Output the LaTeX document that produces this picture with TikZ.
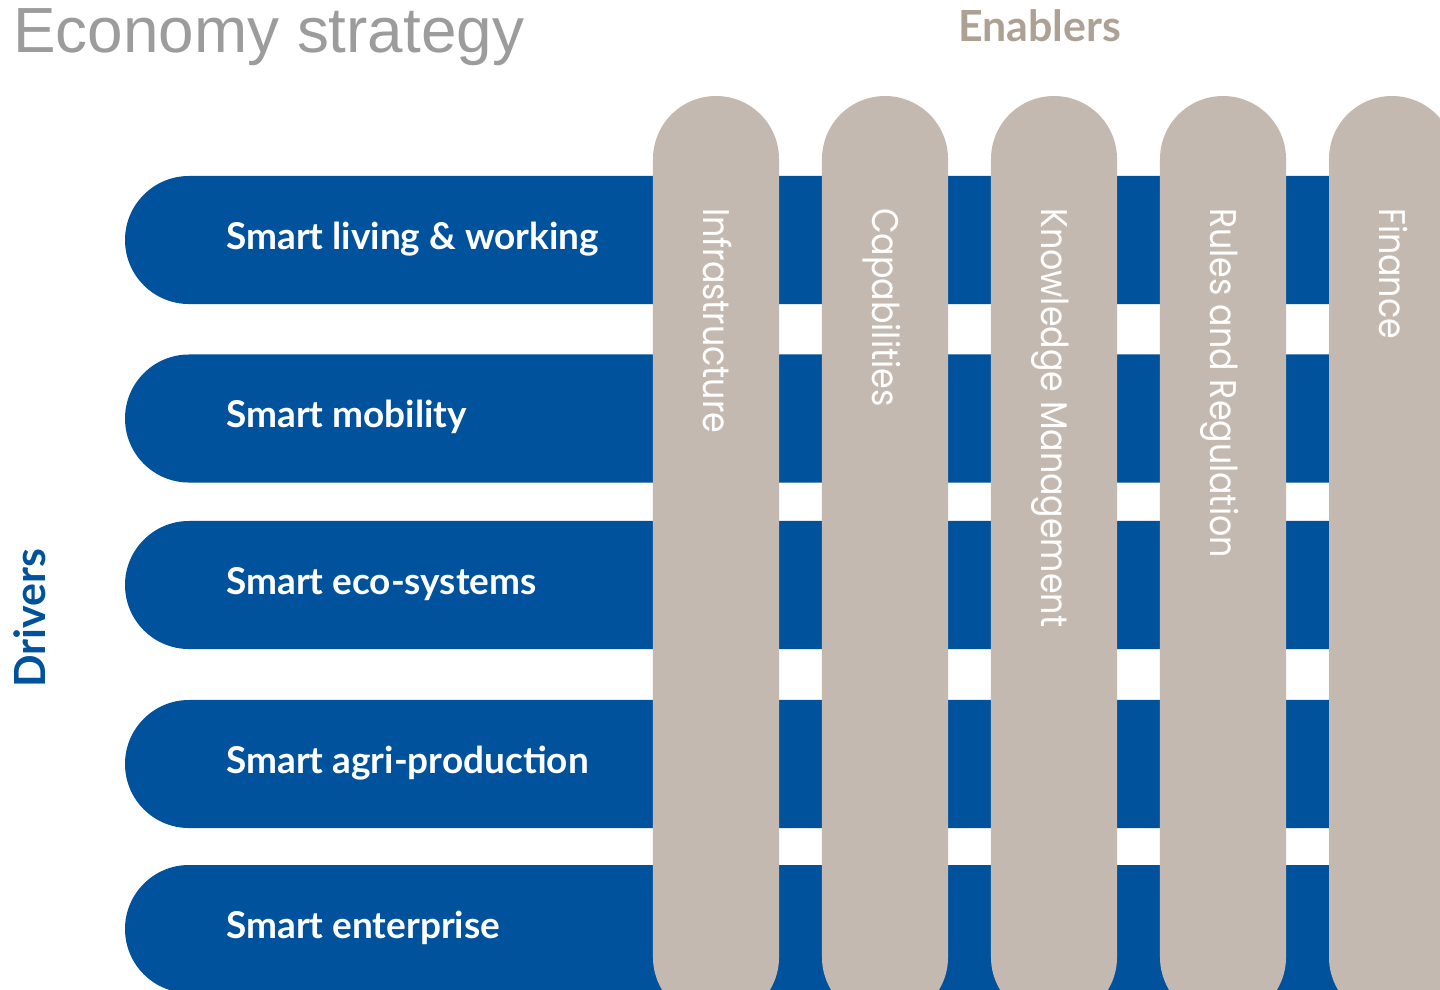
\documentclass[tikz,border=0pt]{standalone}
\usepackage{fontspec}
\usepackage{graphicx}
\setmainfont{Lato}
\newfontfamily\titlefont{Liberation Sans}
\newfontfamily\enablerfont{Poppins}
\usepackage{tikz}
\usetikzlibrary{positioning}
\usetikzlibrary{shapes.misc}
\definecolor{driverblue}{HTML}{00529C}
\definecolor{enablergray}{HTML}{C4B9B0}
\definecolor{enablertext}{HTML}{ADA194}
\definecolor{titlegray}{HTML}{9C9C9C}
\tikzset{
    driver/.style = {shape=rounded rectangle,rounded rectangle right arc=none,fill=driverblue,inner sep=0,outer sep=0,minimum height=3.2cm,minimum width=33.5cm,anchor=west},
    enabler/.style = {shape=rounded rectangle,fill=enablergray,inner sep=0,outer sep=0,minimum height=3.15cm,minimum width=23.1cm,rotate=-90,anchor=west},
    drvlabel/.style = {text=white,inner sep=0,anchor=base west,font=\bfseries\fontsize{26.3}{30}\selectfont},
    enblabel/.style = {text=white,inner sep=0,anchor=base west,rotate=-90,font=\enablerfont\fontsize{26.4}{30}\selectfont}
}
\begin{document}
\begin{tikzpicture}[x=0.025cm,y=-0.025cm]
        \useasboundingbox (0,0) rectangle (1440,989);
        \clip (0,0) rectangle (1440,989);
        % Headings
        \node[text=titlegray,inner sep=0,anchor=base west,font=\titlefont\fontsize{45.4}{50}\selectfont] (title) at (13,52) {Economy strategy};
        \node[text=enablertext,inner sep=0,anchor=base west,font=\bfseries\fontsize{30.5}{34}\selectfont] (enablers) at (958,41) {Enablers};
        \node[text=driverblue,inner sep=0,anchor=base west,rotate=90,font=\bfseries\fontsize{30.5}{34}\selectfont] (drivers) at (45,688) {Drivers};
        % Drivers
        \foreach \name/\ypos/\txt in {d1/240/Smart living \& working,d2/418.5/Smart mobility,d3/585/Smart eco-systems,d4/764/Smart agri-production,d5/929/Smart enterprise}
        {
            \node[driver] (\name) at (125,\ypos) {};
            \node[drvlabel] (\name-lbl) at (226,\ypos+9) {\txt};
        }
        % Enablers
        \foreach \name/\xpos/\txt in {e1/716/Infrastructure,e2/885/Capabilities,e3/1054/Knowledge Management,e4/1223/Rules and Regulation,e5/1392/Finance}
        {
            \node[enabler] (\name) at (\xpos,96) {};
            \node[enblabel] (\name-lbl) at (\xpos-13,208) {\scalebox{0.895}[1]{\txt}};
        }
\end{tikzpicture}
\end{document}
